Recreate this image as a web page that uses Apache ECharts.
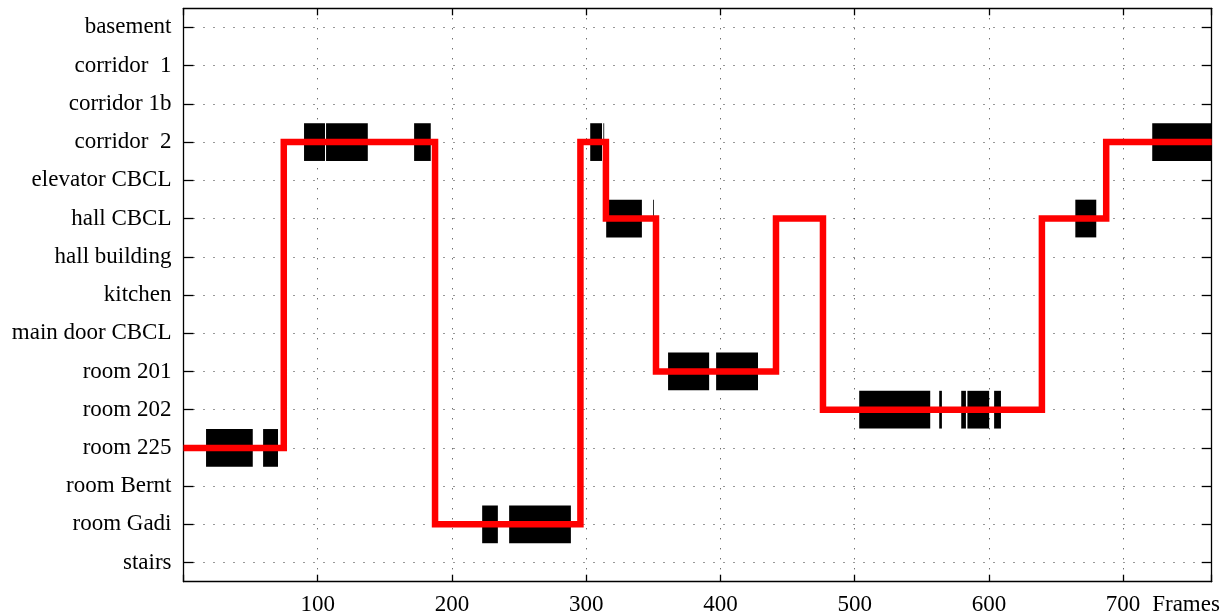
<!DOCTYPE html>
<html><head><meta charset="utf-8">
<script src="https://cdn.jsdelivr.net/npm/echarts@6/dist/echarts.min.js"></script>
<style>html,body{margin:0;padding:0;background:#fff}#c{width:1228px;height:612px}</style>
</head><body><div id="c"></div>
<script>
// y categories (top to bottom)
const rooms = ['basement', 'corridor  1', 'corridor 1b', 'corridor  2', 'elevator CBCL', 'hall CBCL',
  'hall building', 'kitchen', 'main door CBCL', 'room 201', 'room 202', 'room 225', 'room Bernt', 'room Gadi', 'stairs'];
// x axis range (frames)
const frameMin = 0;
const frameMax = 766;
const frameStep = 100;
const xAxisName = 'Frames';
// ground-truth detections: [startFrame, endFrame, room]
const detections = [
  [16.8, 51.6, 'room 225'], [59.3, 70.4, 'room 225'],
  [89.8, 105.4, 'corridor  2'], [106.2, 137.3, 'corridor  2'], [171.8, 184.2, 'corridor  2'],
  [222.5, 234.2, 'room Gadi'], [242.6, 288.6, 'room Gadi'],
  [303.0, 311.8, 'corridor  2'], [312.8, 313.4, 'corridor  2'],
  [314.9, 341.5, 'hall CBCL'], [349.9, 350.5, 'hall CBCL'],
  [361.0, 391.6, 'room 201'], [396.8, 428.0, 'room 201'],
  [503.4, 556.3, 'room 202'], [563.0, 565.0, 'room 202'], [579.4, 582.9, 'room 202'],
  [584.0, 600.2, 'room 202'], [603.9, 609.0, 'room 202'],
  [664.4, 680.0, 'hall CBCL'],
  [721.7, 766.0, 'corridor  2']
];
// estimated location: frame where each step starts, room
const estimateFrames = [0, 74.7, 187.4, 295.7, 314.7, 352.0, 441.4, 476.4, 639.5, 687.4, 766];
const estimateRooms = ['room 225', 'corridor  2', 'room Gadi', 'corridor  2', 'hall CBCL', 'room 201',
  'hall CBCL', 'room 202', 'hall CBCL', 'corridor  2', 'corridor  2'];

const FONT = 'Liberation Serif, Times New Roman, serif';
const chart = echarts.init(document.getElementById('c'), null, {renderer: 'canvas'});

const yBase = {
  type: 'category', data: rooms, inverse: true,
  axisLine: {show: true, onZero: false, lineStyle: {color: '#000', width: 1.3}},
  axisTick: {show: true, inside: true, alignWithLabel: true, length: 10, lineStyle: {color: '#000', width: 1.3}}
};
const xBase = {
  type: 'value', min: frameMin, max: frameMax, interval: frameStep,
  axisLine: {show: true, onZero: false, lineStyle: {color: '#000', width: 1.3}},
  axisTick: {show: true, inside: true, length: 7, lineStyle: {color: '#000', width: 1.3}}
};

chart.setOption({
  animation: false,
  backgroundColor: '#fff',
  grid: {left: 183.5, right: 16.3, top: 8.3, bottom: 30.3, containLabel: false, outerBoundsMode: 'none'},
  xAxis: [
    Object.assign({}, xBase, {
      position: 'bottom',
      name: xAxisName, nameLocation: 'end', nameGap: -59.5, nameMoveOverlap: false,
      nameTextStyle: {fontFamily: FONT, fontSize: 23, color: '#000', align: 'left', verticalAlign: 'top', padding: [12, 0, 0, 0]},
      axisLabel: {fontFamily: FONT, fontSize: 23, color: '#000', margin: 12,
        formatter: v => (v > 0 && v % frameStep === 0) ? String(v) : ''},
      splitLine: {show: true, lineStyle: {color: '#333', width: 1, type: [1, 9]}}
    }),
    Object.assign({}, xBase, {
      position: 'top', axisLabel: {show: false}, splitLine: {show: false}
    })
  ],
  yAxis: [
    Object.assign({}, yBase, {
      position: 'left',
      axisLabel: {fontFamily: FONT, fontSize: 23, color: '#000', margin: 12, padding: [6, 0, 0, 0]},
      splitLine: {show: true, alignWithLabel: true, lineStyle: {color: '#333', width: 1, type: [1, 9]}}
    }),
    Object.assign({}, yBase, {
      position: 'right', axisLabel: {show: false}, splitLine: {show: false}
    })
  ],
  series: [
    {
      type: 'custom',
      xAxisIndex: 0, yAxisIndex: 0,
      z: 2,
      encode: {x: [0, 1], y: 2},
      data: detections,
      renderItem: function (params, api) {
        const cat = api.value(2);
        const p0 = api.coord([api.value(0), cat]);
        const p1 = api.coord([api.value(1), cat]);
        const h = api.size([0, 1])[1] * 0.987;
        const rect = echarts.graphic.clipRectByRect(
          {x: p0[0], y: p0[1] - h / 2, width: p1[0] - p0[0], height: h},
          {x: params.coordSys.x, y: params.coordSys.y, width: params.coordSys.width, height: params.coordSys.height}
        );
        return rect && {type: 'rect', shape: rect, style: {fill: '#000'}};
      }
    },
    {
      type: 'line',
      xAxisIndex: 0, yAxisIndex: 0,
      z: 3,
      step: 'start',
      showSymbol: false,
      symbol: 'none',
      data: estimateFrames.map((f, i) => [f, estimateRooms[i]]),
      lineStyle: {color: '#ff0000', width: 6.5, join: 'miter', cap: 'butt'}
    }
  ]
});
</script>
</body></html>
